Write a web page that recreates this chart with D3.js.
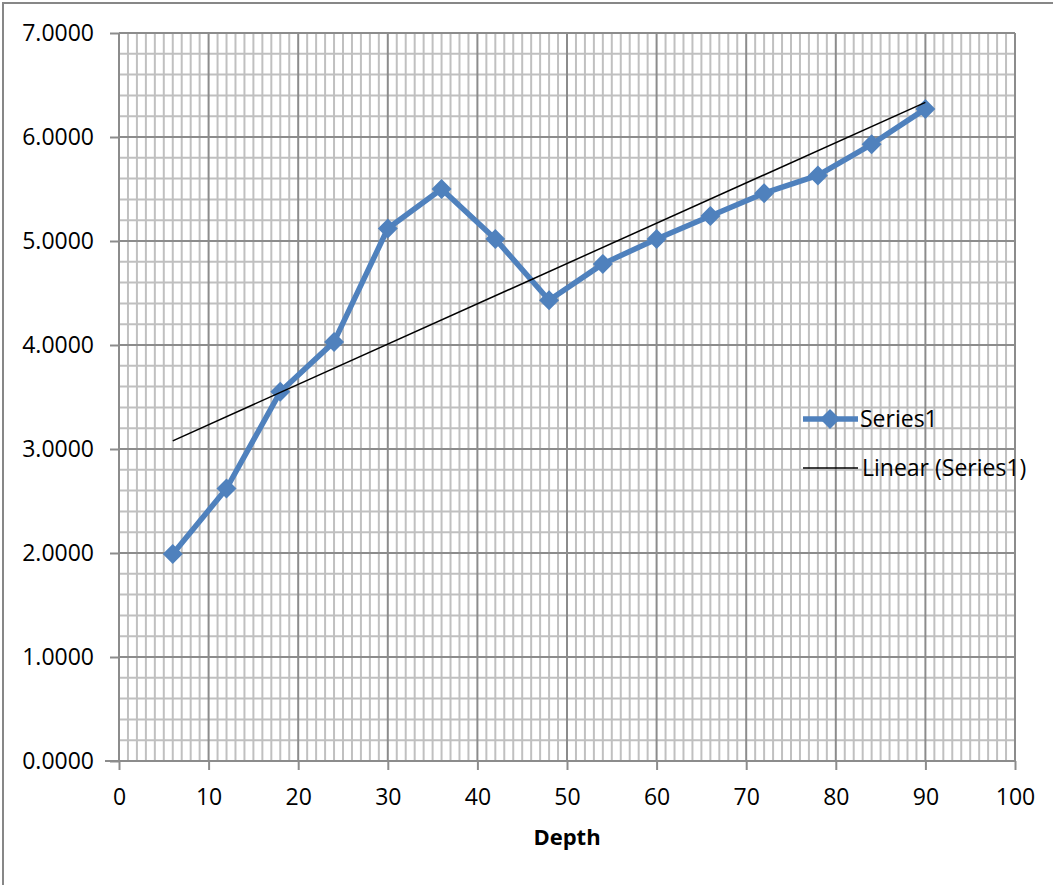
<!DOCTYPE html>
<html><head><meta charset="utf-8">
<script src="https://cdn.jsdelivr.net/npm/d3@7"></script>
<style>body{margin:0;background:#fff}svg{display:block}</style>
</head><body>
<svg id="chart" width="1053" height="885"></svg>
<script>
const depth = [6,12,18,24,30,36,42,48,54,60,66,72,78,84,90];
const series1 = [1.99,2.62,3.55,4.03,5.12,5.50,5.02,4.43,4.78,5.02,5.24,5.46,5.63,5.93,6.27];
const xTicks = [0,10,20,30,40,50,60,70,80,90,100];
const yTicks = [0,1,2,3,4,5,6,7];
const seriesName = "Series1";
const trendName = "Linear (Series1)";
const xTitle = "Depth";

const svg = d3.select("#chart");
const font = "'Open Sans', sans-serif";
const L = 119, R = 1015, T = 33, B = 761;
const x = d3.scaleLinear().domain([0,100]).range([L,R]);
const y = d3.scaleLinear().domain([0,7]).range([B,T]);

// outer border
svg.append("rect").attr("x",3).attr("y",3).attr("width",1060).attr("height",900)
  .attr("fill","none").attr("stroke","#878787").attr("stroke-width",2);

// minor grid
const g = svg.append("g");
g.selectAll(".mx").data(d3.range(0,101,1).filter(d=>d%10!==0)).join("line")
  .attr("x1",d=>x(d)).attr("x2",d=>x(d)).attr("y1",T).attr("y2",B)
  .attr("stroke","#c0c0c0").attr("stroke-width",2);
g.selectAll(".my").data(d3.range(0,36).map(i=>i*0.2).filter((d,i)=>i%5!==0)).join("line")
  .attr("x1",L).attr("x2",R).attr("y1",d=>y(d)).attr("y2",d=>y(d))
  .attr("stroke","#c0c0c0").attr("stroke-width",2);
// major grid
g.selectAll(".Mx").data(xTicks).join("line")
  .attr("x1",d=>x(d)).attr("x2",d=>x(d)).attr("y1",T).attr("y2",B)
  .attr("stroke","#8c8c8c").attr("stroke-width",2);
g.selectAll(".My").data(yTicks).join("line")
  .attr("x1",L).attr("x2",R).attr("y1",d=>y(d)).attr("y2",d=>y(d))
  .attr("stroke","#8c8c8c").attr("stroke-width",2);

// axes
const xAxis = svg.append("g").attr("transform",`translate(0,${B})`)
  .call(d3.axisBottom(x).tickValues(xTicks).tickSize(9).tickPadding(19).tickFormat(d3.format("d")));
const yAxis = svg.append("g").attr("transform",`translate(${L},0)`)
  .call(d3.axisLeft(y).tickValues(yTicks).tickSize(9).tickPadding(16).tickFormat(d3.format(".4f")));
[xAxis,yAxis].forEach(a=>{
  a.select(".domain").attr("stroke","#8c8c8c").attr("stroke-width",2);
  a.selectAll(".tick line").attr("stroke","#8c8c8c").attr("stroke-width",2);
  a.selectAll("text").attr("fill","#000").style("font-family",font).style("font-size","23px");
});
xAxis.select(".domain").attr("d",`M${L-14},0H${R}`);
yAxis.select(".domain").attr("d",`M0,${T}V${B}`);

// trend line (least squares)
const mx = d3.mean(depth), my = d3.mean(series1);
const slope = d3.sum(depth.map((d,i)=>(d-mx)*(series1[i]-my)))/d3.sum(depth.map(d=>(d-mx)*(d-mx)));
const icpt = my - slope*mx;
const ends = [d3.min(depth), d3.max(depth)];
// series line
const line = d3.line().x(d=>x(d[0])).y(d=>y(d[1]));
const pts = depth.map((d,i)=>[d,series1[i]]);
svg.append("path").attr("d",line(pts)).attr("fill","none")
  .attr("stroke","#4f81bd").attr("stroke-width",5.5).attr("stroke-linejoin","round");
const diamond = "M0,-10L10,0L0,10L-10,0Z";
svg.selectAll(".mk").data(pts).join("path").attr("d",diamond)
  .attr("transform",d=>`translate(${x(d[0])},${y(d[1])})`).attr("fill","#4f81bd");
svg.append("path").attr("d",line(ends.map(d=>[d,icpt+slope*d]))).attr("fill","none")
  .attr("stroke","#000").attr("stroke-width",1.5);

// x title
svg.append("text").attr("x",567).attr("y",845).attr("text-anchor","middle")
  .style("font-family",font).style("font-size","22px").style("font-weight","bold").text(xTitle);

// legend
const lg = svg.append("g");
lg.append("line").attr("x1",803).attr("x2",858).attr("y1",419).attr("y2",419)
  .attr("stroke","#4f81bd").attr("stroke-width",5.5);
lg.append("path").attr("d",diamond).attr("transform","translate(830,419)").attr("fill","#4f81bd");
lg.append("text").attr("x",860).attr("y",427).style("font-family",font).style("font-size","23px").text(seriesName);
lg.append("line").attr("x1",803).attr("x2",858).attr("y1",468).attr("y2",468)
  .attr("stroke","#000").attr("stroke-width",1.5);
lg.append("text").attr("x",862).attr("y",476).style("font-family",font).style("font-size","23px").text(trendName);
</script>
</body></html>
